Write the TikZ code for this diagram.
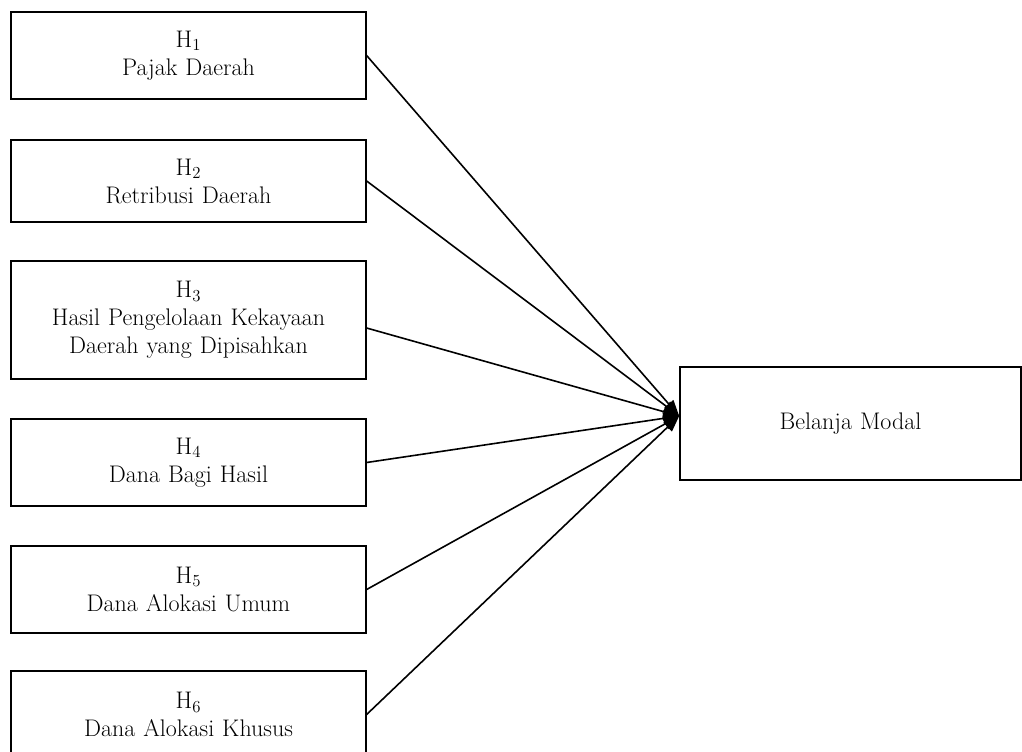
\documentclass[tikz,border=0pt]{standalone}
\usepackage{tikz}
\usetikzlibrary{arrows.meta}
\usetikzlibrary{positioning}
\tikzstyle{variabel} = [rectangle, minimum width=266pt, minimum height=65.25pt, text centered, text width=255pt, draw=black, line width=1.2pt, font=\fontsize{18}{21}\selectfont]
\tikzstyle{panah} = [-{Triangle[length=12pt,width=9pt]}, line width=1.2pt]

\begin{document}
\begin{tikzpicture}[x=0.75pt, y=-0.75pt]
 \clip (0,0) rectangle (1022,751);

 \node (h1) [variabel] at (188.5,55.5) {H\textsubscript{1}\\Pajak Daerah};
 \node (h2) [variabel, minimum height=61.5pt] at (188.5,181) {H\textsubscript{2}\\Retribusi Daerah};
 \node (h3) [variabel, minimum height=88.5pt] at (188.5,320) {H\textsubscript{3}\\Hasil Pengelolaan Kekayaan\\Daerah yang Dipisahkan};
 \node (h4) [variabel] at (188.5,462.5) {H\textsubscript{4}\\Dana Bagi Hasil};
 \node (h5) [variabel] at (188.5,589.5) {H\textsubscript{5}\\Dana Alokasi Umum};
 \node (h6) [variabel] at (188.5,714.5) {H\textsubscript{6}\\Dana Alokasi Khusus};

 \node (bm) [variabel, minimum width=255.75pt, minimum height=84.75pt, text width=220pt] at (850.5,423.5) {Belanja Modal};
 \coordinate (tip) at ([yshift=5.6pt]bm.west);

 \draw [panah] (h1.east) -- (tip);
 \draw [panah] (h2.east) -- (tip);
 \draw [panah] ([yshift=-6pt]h3.east) -- (tip);
 \draw [panah] (h4.east) -- (tip);
 \draw [panah] (h5.east) -- (tip);
 \draw [panah] (h6.east) -- (tip);
\end{tikzpicture}
\end{document}
